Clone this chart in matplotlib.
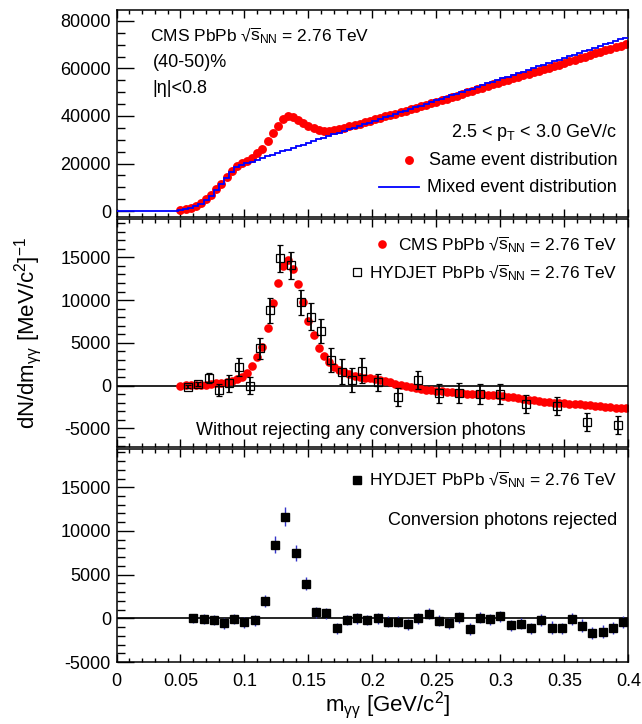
import numpy as np
import matplotlib
matplotlib.use("Agg")
import matplotlib.pyplot as plt
from matplotlib.ticker import MultipleLocator, FixedLocator, FormatStrFormatter

plt.rcParams['font.family'] = ['Liberation Sans', 'DejaVu Sans']
plt.rcParams['mathtext.fontset'] = 'custom'
plt.rcParams['mathtext.rm'] = 'Liberation Sans'
plt.rcParams['mathtext.it'] = 'Liberation Sans:italic'
plt.rcParams['mathtext.bf'] = 'Liberation Sans:bold'
plt.rcParams['axes.unicode_minus'] = False

# ---------------- data ----------------
bin_width = 0.004
# mixed-event histogram (top panel), bin centres 0.002 ... 0.398
mixed_centres = np.round(0.002 + bin_width * np.arange(100), 3)
mixed_counts = [0, 0, 0, 0, 0, 0, 0, 0, 0, 0, 0, 0,
                350, 800, 1400, 2100, 3100, 4500, 6400, 8700, 11200, 13800, 16400, 18700,
                19410, 20130, 20840, 21560, 22270, 22980, 23700, 24410, 25130, 25840,
                26550, 27270, 27980, 28700, 29410, 30120, 30840, 31550, 32270, 32980,
                33690, 34410, 35120, 35840, 36550, 37260, 37980, 38690, 39410, 40120,
                40830, 41550, 42260, 42980, 43690, 44400, 45120, 45830, 46550, 47260,
                47970, 48690, 49400, 50120, 50830, 51540, 52260, 52970, 53690, 54400,
                55110, 55830, 56540, 57260, 57970, 58680, 59400, 60110, 60830, 61540,
                62250, 62970, 63680, 64400, 65110, 65820, 66540, 67250, 67970, 68680,
                69390, 70110, 70820, 71540, 72250, 72960]

# same-event distribution (top) and CMS signal (middle), centres 0.050 ... 0.398
cms_mass = np.round(0.050 + bin_width * np.arange(88), 3)
same_counts = [600, 1000, 1500, 2200, 3250, 4900, 6800, 9100, 11600, 14300,
               16900, 19100, 20100, 21100, 22400, 24300, 26200, 29300, 32900, 36000,
               38900, 40200, 39600, 38400, 37100, 35800, 34900, 34200, 33800, 33800,
               34100, 34600, 35100, 35600, 36200, 36800, 37400, 38000, 38600, 39200,
               39800, 40400, 41000, 41550, 42150, 42750, 43350, 44000, 44650, 45300,
               45950, 46600, 47230, 47900, 48550, 49230, 49910, 50580, 51270, 51950,
               52640, 53310, 53970, 54630, 55270, 55900, 56520, 57140, 57770, 58390,
               59030, 59660, 60300, 60970, 61640, 62330, 63000, 63660, 64340, 64990,
               65660, 66310, 66960, 67630, 68300, 68980, 69650, 70330]
cms_signal = [0, 20, 40, 60, 90, 130, 190, 260, 350, 460,
              600, 780, 1050, 1450, 2250, 3400, 4500, 6790, 9700, 12050,
              14000, 14700, 13650, 11850, 9800, 7570, 5950, 4450, 3450, 2800,
              2230, 1830, 1540, 1360, 1180, 1060, 940, 880, 790, 700,
              560, 410, 230, 70, -80, -200, -300, -380, -450, -530,
              -600, -660, -740, -790, -850, -890, -920, -960, -990, -1020,
              -1050, -1090, -1140, -1200, -1270, -1360, -1450, -1540, -1630, -1720,
              -1800, -1880, -1950, -2000, -2040, -2070, -2110, -2160, -2200, -2260,
              -2310, -2370, -2430, -2480, -2520, -2560, -2600, -2630]

# HYDJET without conversion rejection (middle panel)
hyd_mass = [0.056, 0.064, 0.072, 0.080, 0.088, 0.096, 0.104, 0.112, 0.120, 0.128,
            0.136, 0.144, 0.152, 0.160, 0.168, 0.176, 0.184, 0.192, 0.204, 0.220,
            0.236, 0.252, 0.268, 0.284, 0.300, 0.320, 0.344, 0.368, 0.392]
hyd_signal = [-120, 160, 860, -500, 280, 2180, 0, 4370, 8810, 14880,
              14070, 9740, 8060, 6390, 3000, 1640, 670, 1750, 400, -1290,
              670, -890, -890, -970, -970, -2140, -2340, -4210, -4590]
hyd_err = [200, 250, 580, 660, 1010, 1090, 1010, 1200, 1440, 1560,
           1560, 1440, 1560, 1440, 1360, 1440, 1440, 1440, 1010, 1050,
           1090, 1100, 1150, 1130, 1220, 1030, 1070, 1070, 1030]

# HYDJET with conversion photons rejected (bottom panel)
rej_mass = np.round(0.060 + 0.008 * np.arange(43), 3)
rej_signal = [0, -80, -190, -570, -110, -460, -230, 1970, 8420, 11610,
              7510, 3980, 680, 570, -1140, -190, 0, -190, 0, -380,
              -380, -680, 0, 530, -270, -570, 110, -1210, 80, -110,
              230, -800, -610, -1140, -190, -1060, -1140, -80, -830, -1710,
              -1520, -1140, -380]
rej_err = [550, 550, 550, 600, 550, 600, 600, 650, 950, 1100,
           900, 760, 650, 650, 650, 600, 600, 600, 600, 600,
           600, 600, 600, 650, 600, 600, 650, 650, 650, 650,
           650, 650, 650, 650, 650, 700, 650, 650, 700, 700,
           700, 700, 700]

sqrt_s = '√' + r'$\overline{\mathrm{s}}_{\mathrm{NN}}$'

# ---------------- figure ----------------
fig = plt.figure(figsize=(6.42, 7.24), dpi=100)
L, W = 0.1815, 0.7972
ax1 = fig.add_axes([L, 0.6996, W, 0.2866])
ax2 = fig.add_axes([L, 0.3822, W, 0.3149])
ax3 = fig.add_axes([L, 0.0856, W, 0.2938])

FS = 13
FSQ = 12.5
for ax in (ax1, ax2, ax3):
    ax.set_xlim(0, 0.4)
    ax.xaxis.set_major_locator(MultipleLocator(0.05))
    ax.xaxis.set_minor_locator(MultipleLocator(0.01))
    ax.xaxis.set_major_formatter(FormatStrFormatter('%g'))
    ax.yaxis.set_major_formatter(FormatStrFormatter('%d'))
    ax.tick_params(axis='x', which='major', direction='in', length=6, width=1.0,
                   top=True, bottom=True, labelsize=FS, pad=8)
    ax.tick_params(axis='x', which='minor', direction='in', length=3, width=1.0,
                   top=True, bottom=True)
    ax.tick_params(axis='y', which='major', direction='in', length=12, width=1.0,
                   left=True, right=False, labelsize=FS, pad=4)
    ax.tick_params(axis='y', which='minor', direction='in', length=6, width=1.0,
                   left=True, right=False)
    for sp in ax.spines.values():
        sp.set_linewidth(1.1)

ax1.tick_params(axis='x', labelbottom=False)
ax2.tick_params(axis='x', labelbottom=False)

# ---- top panel ----
ax1.set_ylim(-2700, 84600)
ax1.yaxis.set_major_locator(MultipleLocator(20000))
ax1.yaxis.set_minor_locator(MultipleLocator(5000))
ax1.stairs(mixed_counts, np.round(np.arange(101) * bin_width, 3), color='#0000ff',
           linewidth=1.3, baseline=None, zorder=3)
ax1.plot(cms_mass, same_counts, 'o', color='#ff0000', markersize=6.4,
         markeredgewidth=0, zorder=2)

ax1.text(0.066, 0.877, 'CMS PbPb ' + sqrt_s + ' = 2.76 TeV', transform=ax1.transAxes,
         fontsize=FSQ, va='center', ha='left')
ax1.text(0.071, 0.747, '(40-50)%', transform=ax1.transAxes, fontsize=FS,
         va='center', ha='left')
ax1.text(0.071, 0.624, '|η|<0.8', transform=ax1.transAxes, fontsize=FS,
         va='center', ha='left')
ax1.text(0.978, 0.412, r'2.5 < p$_{\mathrm{T}}$ < 3.0 GeV/c', transform=ax1.transAxes,
         fontsize=FS, va='center', ha='right')
ax1.plot([0.5716], [0.2747], 'o', color='#ff0000', markersize=6.4, markeredgewidth=0,
         transform=ax1.transAxes)
ax1.text(0.978, 0.2747, 'Same event distribution', transform=ax1.transAxes,
         fontsize=FS, va='center', ha='right')
ax1.plot([0.512, 0.591], [0.1446, 0.1446], color='#0000ff', linewidth=1.3,
         transform=ax1.transAxes)
ax1.text(0.978, 0.1446, 'Mixed event distribution', transform=ax1.transAxes,
         fontsize=FS, va='center', ha='right')

# ---- middle panel ----
ax2.set_ylim(-7200, 19440)
ax2.yaxis.set_major_locator(FixedLocator([-5000, 0, 5000, 10000, 15000]))
ax2.yaxis.set_minor_locator(MultipleLocator(1000))
ax2.axhline(0, color='black', linewidth=1.2, zorder=1)
ax2.plot(cms_mass, cms_signal, 'o', color='#ff0000', markersize=6.2,
         markeredgewidth=0, zorder=2)
ax2.errorbar(hyd_mass, hyd_signal, yerr=hyd_err, fmt='s', markersize=5.6,
             markerfacecolor='none', markeredgecolor='black', markeredgewidth=0.9,
             ecolor='black', elinewidth=1.3, capsize=2.2, capthick=1.3, zorder=3)
ax2.plot([0.5188], [0.890], 'o', color='#ff0000', markersize=6.2, markeredgewidth=0,
         transform=ax2.transAxes)
ax2.text(0.978, 0.890, 'CMS PbPb ' + sqrt_s + ' = 2.76 TeV', transform=ax2.transAxes,
         fontsize=FSQ, va='center', ha='right')
ax2.plot([0.469], [0.767], 's', markersize=5.6, markerfacecolor='white',
         markeredgecolor='black', markeredgewidth=0.9, transform=ax2.transAxes)
ax2.text(0.978, 0.767, 'HYDJET PbPb ' + sqrt_s + ' = 2.76 TeV', transform=ax2.transAxes,
         fontsize=FSQ, va='center', ha='right')
ax2.text(0.4777, 0.0715, 'Without rejecting any conversion photons',
         transform=ax2.transAxes, fontsize=FS, va='center', ha='center')
ax2.set_ylabel(r'dN/dm$_{\mathrm{γγ}}$ [MeV/c$^{2}$]$^{-1}$', fontsize=16, labelpad=12)

# ---- bottom panel ----
ax3.set_ylim(-5000, 19340)
ax3.yaxis.set_major_locator(FixedLocator([-5000, 0, 5000, 10000, 15000]))
ax3.yaxis.set_minor_locator(MultipleLocator(1000))
ax3.axhline(0, color='black', linewidth=1.2, zorder=1)
ax3.errorbar(rej_mass, rej_signal, yerr=rej_err, fmt='s', markersize=6.0,
             color='black', ecolor='#3535c8', elinewidth=1.0, capsize=0, zorder=3)
ax3.plot([0.469], [0.8566], 's', markersize=6.0, color='black',
         transform=ax3.transAxes)
ax3.text(0.978, 0.8566, 'HYDJET PbPb ' + sqrt_s + ' = 2.76 TeV', transform=ax3.transAxes,
         fontsize=FSQ, va='center', ha='right')
ax3.text(0.978, 0.663, 'Conversion photons rejected', transform=ax3.transAxes,
         fontsize=FS, va='center', ha='right')

fig.text(0.603, 0.026, r'm$_{\mathrm{γγ}}$ [GeV/c$^{2}$]', fontsize=16,
         ha='center', va='center')

fig.savefig('out.png', dpi=100)
